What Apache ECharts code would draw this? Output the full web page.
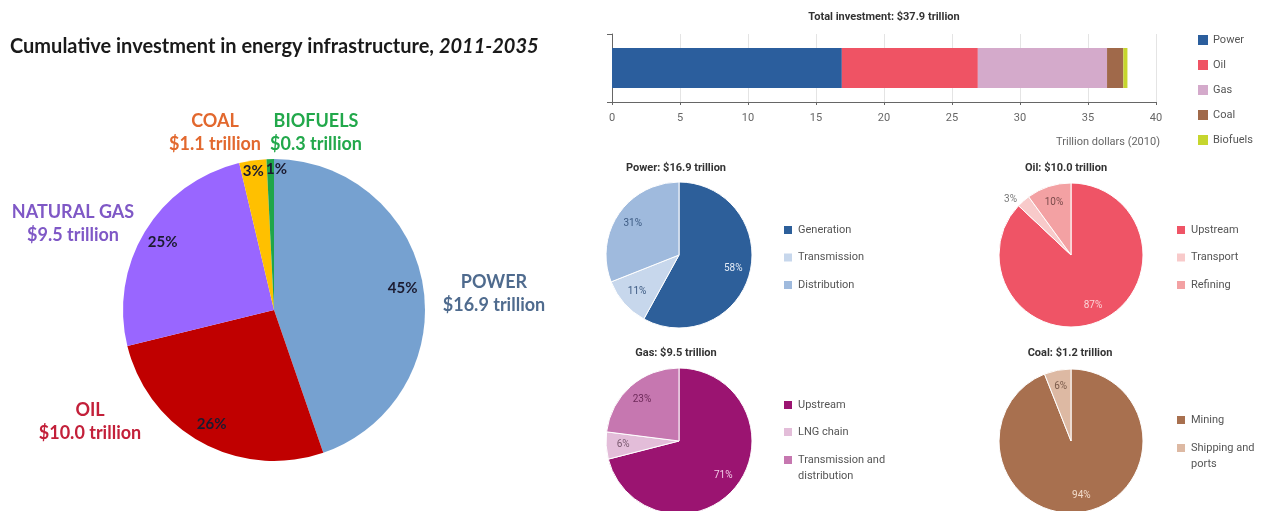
<!DOCTYPE html>
<html><head><meta charset="utf-8">
<script src="https://cdn.jsdelivr.net/npm/echarts@6/dist/echarts.min.js"></script>
<style>html,body{margin:0;padding:0;background:#fff}#c{width:1265px;height:511px}</style>
</head><body><div id="c"></div>
<script>
// ---- data ----
const mainNames = ['POWER', 'OIL', 'NATURAL GAS', 'COAL', 'BIOFUELS'];
const mainValues = [16.9, 10.0, 9.5, 1.1, 0.3];
const mainPct = [45, 26, 25, 3, 1];
const mainValueText = ['$16.9 trillion', '$10.0 trillion', '$9.5 trillion', '$1.1 trillion', '$0.3 trillion'];

const barNames = ['Power', 'Oil', 'Gas', 'Coal', 'Biofuels'];
const barValues = [16.9, 10.0, 9.5, 1.2, 0.3];
const barCategory = ['Total'];
const xMin = 0, xMax = 40, xStep = 5;

const powerNames = ['Generation', 'Transmission', 'Distribution'];
const powerPct = [58, 11, 31];
const oilNames = ['Upstream', 'Transport', 'Refining'];
const oilPct = [87, 3, 10];
const gasNames = ['Upstream', 'LNG chain', 'Transmission and\ndistribution'];
const gasPct = [71, 6, 23];
const coalNames = ['Mining', 'Shipping and\nports'];
const coalPct = [94, 6];

const titleMain = 'Cumulative investment in energy infrastructure, ';
const titleYears = '2011-2035';
const barTitle = 'Total investment: $37.9 trillion';
const axisUnit = 'Trillion dollars (2010)';
const subTitles = ['Power: $16.9 trillion', 'Oil: $10.0 trillion', 'Gas: $9.5 trillion', 'Coal: $1.2 trillion'];

// ---- styles ----
const mainColors = ['#76A1D0', '#C00000', '#9966FF', '#FFC000', '#1FA64A'];
const mainLabelColors = ['#4F6B8E', '#C3203A', '#7F58C6', '#E2682E', '#22A84B'];
const barColors = ['#2B5E9D', '#EF5364', '#D4AACB', '#A0694A', '#C6D62E'];
const powerColors = ['#2D5F9A', '#C7D7EC', '#9FBADD'];
const oilColors = ['#EF5466', '#F8CACA', '#F3A1A3'];
const gasColors = ['#9B1471', '#E3BDD9', '#C677B0'];
const coalColors = ['#A8704F', '#DDB9A3'];
const powerLblColors = ['#E4ECF7', '#3C5A82', '#3C5A82'];
const oilLblColors = ['#FBD3D6', '#777777', '#7A4A4A'];
const gasLblColors = ['#F2CBE6', '#7A5A70', '#6E2A5A'];
const coalLblColors = ['#F2DCCB', '#7A5A4A'];

const NARROW = '"Liberation Sans Narrow", "Roboto", sans-serif';
const BOLDF = 'Lato, "Open Sans", sans-serif';

const chart = echarts.init(document.getElementById('c'), null, {renderer: 'canvas'});

function pieData(names, vals, colors) {
  return names.map((n, i) => ({name: n, value: vals[i], itemStyle: {color: colors[i]}}));
}
function overlayData(names, vals, lblColors, outsideIdx) {
  return names.map((n, i) => {
    const d = {name: n, value: vals[i], itemStyle: {color: 'rgba(0,0,0,0)'}, label: {color: lblColors[i]}};
    if (i === outsideIdx) d.label.position = 'outside';
    return d;
  });
}
function subPie(center, r, names, vals, colors, lblColors, outsideIdx) {
  return [
    {type: 'pie', center: center, radius: r, silent: true, animation: false,
     label: {show: false}, labelLine: {show: false},
     itemStyle: {borderColor: '#fff', borderWidth: 1},
     data: pieData(names, vals, colors)},
    {type: 'pie', center: center, radius: [r * 0.45, r], silent: true, animation: false,
     label: {show: true, position: 'inside', formatter: p => vals[p.dataIndex] + '%',
             fontSize: 10, fontFamily: NARROW},
     labelLine: {show: false, length: 2, length2: 0}, avoidLabelOverlap: false,
     labelLayout: {hideOverlap: false},
     data: overlayData(names, vals, lblColors, outsideIdx)}
  ];
}
function legendItems(names, colors) {
  return names.map((n, i) => ({name: n, itemStyle: {color: colors[i]}}));
}
function legendBox(left, top, items, gap, lh, fs) {
  return {orient: 'vertical', left: left, top: top, padding: 0, itemGap: gap,
          itemWidth: 10, itemHeight: 10, icon: 'rect', selectedMode: false,
          textStyle: {fontSize: fs || 11, color: '#555', fontFamily: NARROW, lineHeight: lh},
          data: items};
}

const barSeries = barNames.map((n, i) => ({
  type: 'bar', name: n, stack: 'total', barWidth: 40, silent: true, animation: false,
  itemStyle: {color: barColors[i]}, data: [barValues[i]]
}));

// percentage labels of the main pie: big slices and small slices on two transparent rings
const bigIdx = [0, 1, 2];
function mainOverlay(radius, showIdx, padMap) {
  return {type: 'pie', center: [274, 310], radius: radius, silent: true, animation: false,
   avoidLabelOverlap: false, labelLayout: {hideOverlap: false},
   label: {show: true, position: 'inside', formatter: p => mainPct[p.dataIndex] + '%',
           fontSize: 15, fontWeight: 'bold', fontFamily: BOLDF, color: '#1B1B30'},
   labelLine: {show: false},
   data: mainNames.map((n, i) => {
     const d = {name: n + ' ', value: mainValues[i], itemStyle: {color: 'rgba(0,0,0,0)'},
                label: {show: showIdx.indexOf(i) >= 0}};
     if (padMap && padMap[i]) d.label.padding = padMap[i];
     return d;
   })};
}

const series = [
  {type: 'pie', center: [274, 310], radius: 151, silent: true, animation: false,
   label: {show: false}, labelLine: {show: false},
   data: pieData(mainNames, mainValues, mainColors)},
  mainOverlay([104, 151], bigIdx),
  mainOverlay([124, 151], [3, 4], {3: [0, 2, 0, 0], 4: [0, 0, 0, 12]}),
  ...barSeries,
  ...subPie([679, 255], 73, powerNames, powerPct, powerColors, powerLblColors, -1),
  ...subPie([1071, 255], 72, oilNames, oilPct, oilColors, oilLblColors, 1),
  ...subPie([679, 441], 73, gasNames, gasPct, gasColors, gasLblColors, -1),
  ...subPie([1071, 441], 72, coalNames, coalPct, coalColors, coalLblColors, -1)
];

// graphic texts
const graphics = [];
graphics.push({type: 'text', x: 10, y: 47, style: {
  text: '{a|' + titleMain + '}{b|' + titleYears + '}',
  align: 'left', verticalAlign: 'middle', textAlign: 'left', textVerticalAlign: 'middle',
  rich: {a: {fontSize: 20, fontWeight: 'bold', fontFamily: BOLDF, fill: '#1a1a1a', color: '#1a1a1a'},
         b: {fontSize: 20, fontWeight: 'bold', fontStyle: 'italic', fontFamily: BOLDF, fill: '#1a1a1a', color: '#1a1a1a'}}
}});
const mainLabelPos = [[494, 282], [90, 410], [73, 212], [215, 121], [316, 121]];
mainNames.forEach((n, i) => {
  graphics.push({type: 'text', x: mainLabelPos[i][0], y: mainLabelPos[i][1] - 11.5, style: {
    text: n + '\n' + mainValueText[i], fill: mainLabelColors[i],
    fontSize: 18, fontWeight: 'bold', fontFamily: BOLDF, lineHeight: 23,
    align: 'center', textAlign: 'center', verticalAlign: 'top', textVerticalAlign: 'top'
  }});
});
function smallText(txt, x, y, opts) {
  graphics.push({type: 'text', x: x, y: y, style: Object.assign({
    text: txt, fill: '#333', fontSize: 11, fontWeight: 'bold', fontFamily: NARROW,
    align: 'center', textAlign: 'center', verticalAlign: 'middle', textVerticalAlign: 'middle'
  }, opts || {})});
}
smallText(barTitle, 884, 17);
smallText(axisUnit, 1160, 142, {fontWeight: 'normal', fill: '#666', fontSize: 11, align: 'right', textAlign: 'right'});
smallText(subTitles[0], 676, 168);
smallText(subTitles[1], 1066, 168);
smallText(subTitles[2], 676, 353);
smallText(subTitles[3], 1070, 353);

const option = {
  animation: false,
  backgroundColor: '#fff',
  grid: {left: 612, top: 34, width: 544, height: 68, containLabel: false},
  xAxis: {type: 'value', min: xMin, max: xMax, interval: xStep,
          axisLine: {show: true, lineStyle: {color: '#666'}},
          axisTick: {show: true, length: 3, lineStyle: {color: '#666'}},
          axisLabel: {color: '#666', fontSize: 11, margin: 11, fontFamily: NARROW},
          splitLine: {show: true, lineStyle: {color: '#e4e4e4'}}},
  yAxis: {type: 'category', data: barCategory,
          axisLine: {show: true, lineStyle: {color: '#666'}},
          axisTick: {show: true, length: 5, lineStyle: {color: '#666'}},
          axisLabel: {show: false}, splitLine: {show: false}},
  legend: [
    legendBox(1198, 33, legendItems(barNames, barColors), 11, 14, 11),
    legendBox(782, 223, legendItems(powerNames, powerColors), 13.5, 14),
    legendBox(1175, 223, legendItems(oilNames, oilColors), 13.5, 14),
    legendBox(782, 398, legendItems(gasNames.slice(0, 2), gasColors.slice(0, 2)), 13, 14),
    Object.assign(legendBox(782, 436, legendItems(gasNames.slice(2), gasColors.slice(2)), 0, 16), {formatter: n => '\n' + n}),
    legendBox(1175, 413, legendItems(coalNames.slice(0, 1), coalColors.slice(0, 1)), 0, 14),
    Object.assign(legendBox(1175, 424, legendItems(coalNames.slice(1), coalColors.slice(1)), 0, 16), {formatter: n => '\n' + n})
  ],
  graphic: graphics,
  series: series
};
chart.setOption(option);
</script>
</body></html>
